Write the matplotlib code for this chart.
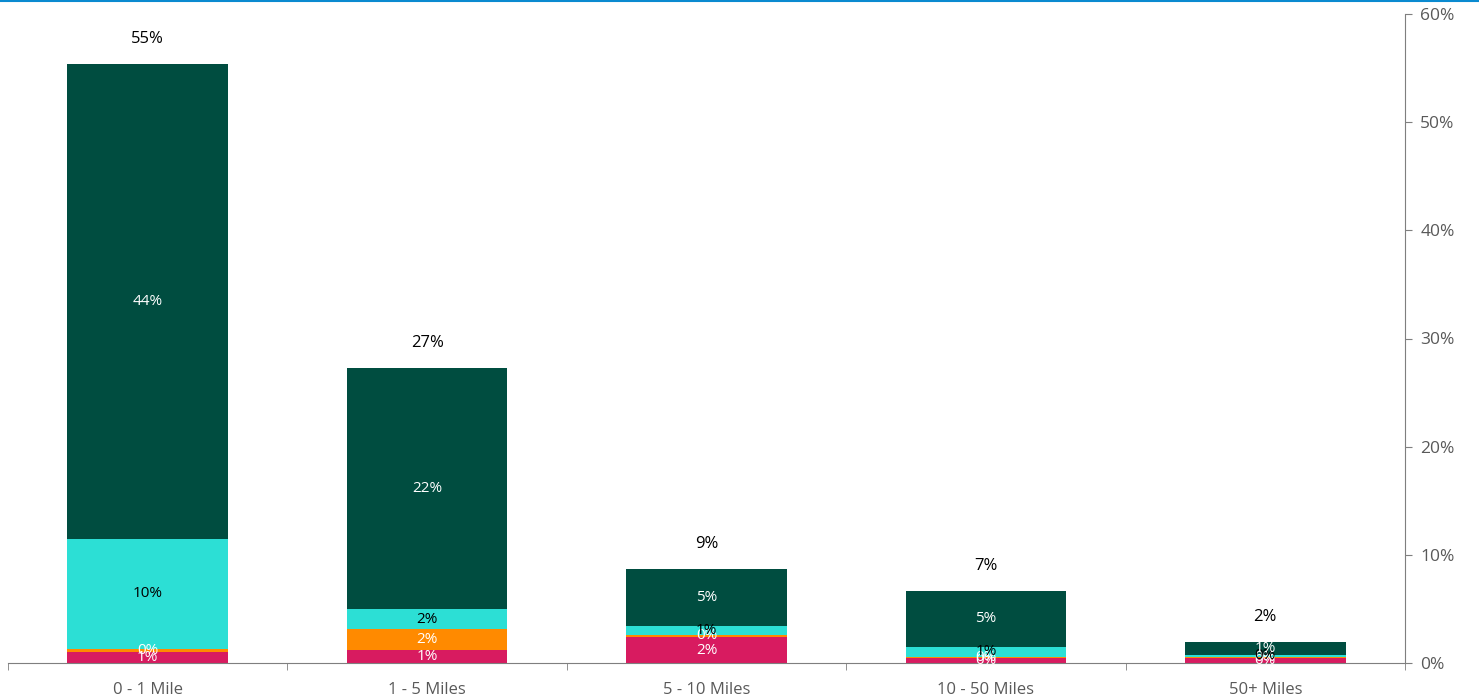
import matplotlib
matplotlib.use("Agg")
import matplotlib.pyplot as plt
import numpy as np
from matplotlib.lines import Line2D

plt.rcParams['font.family'] = ['Open Sans', 'DejaVu Sans']

categories = ["0 - 1 Mile", "1 - 5 Miles", "5 - 10 Miles", "10 - 50 Miles", "50+ Miles"]
crimson_vals = [1.0, 1.2, 2.4, 0.5, 0.45]
orange_vals = [0.3, 1.9, 0.2, 0.1, 0.1]
turquoise_vals = [10.2, 1.9, 0.8, 0.9, 0.2]
green_vals = [43.9, 22.3, 5.3, 5.2, 1.2]

series = [
    (crimson_vals, "#D81B60", "white"),
    (orange_vals, "#FF8A00", "white"),
    (turquoise_vals, "#2CDFD5", "black"),
    (green_vals, "#004D40", "white"),
]

fig = plt.figure(figsize=(14.79, 6.98), dpi=100)
ax = fig.add_axes([8 / 1479, 35 / 698, 1397 / 1479, 649 / 698])

x = np.arange(len(categories))
bottom = np.zeros(len(categories))
for vals, color, txt_color in series:
    vals = np.array(vals)
    ax.bar(x, vals, width=0.575, bottom=bottom, color=color, zorder=2)
    for xi, b, v in zip(x, bottom, vals):
        ax.text(xi, b + v / 2, f"{v:.0f}%", ha="center", va="center",
                color=txt_color, fontsize=11, zorder=3)
    bottom += vals

# totals above each stack
for xi, total in zip(x, bottom):
    ax.annotate(f"{total:.0f}%", (xi, total), xytext=(0, 18),
                textcoords="offset points", ha="center", va="center",
                fontsize=12, color="black")

ax.set_xlim(-0.5, len(categories) - 0.5)
ax.set_ylim(0, 60)
ax.yaxis.tick_right()
ax.set_yticks(np.arange(0, 61, 10))
ax.set_yticklabels([f"{t}%" for t in range(0, 61, 10)])
ax.tick_params(axis="y", direction="out", length=5, color="#7f7f7f",
               labelcolor="#595959", labelsize=12.5, pad=6)

ax.set_xticks(x)
ax.set_xticklabels(categories)
ax.tick_params(axis="x", length=0, labelcolor="#595959", labelsize=12, pad=14)
ax.set_xticks(np.arange(-0.5, len(categories)), minor=True)
ax.tick_params(axis="x", which="minor", length=5, color="#7f7f7f", direction="out")

for side in ["top", "left"]:
    ax.spines[side].set_visible(False)
ax.spines["bottom"].set_color("#7f7f7f")
ax.spines["right"].set_color("#7f7f7f")

# blue rule along the top edge
fig.add_artist(Line2D([0, 1], [0.998, 0.998], transform=fig.transFigure,
                      color="#0A8AD0", linewidth=1.5))

fig.savefig("out.png", dpi=100)
